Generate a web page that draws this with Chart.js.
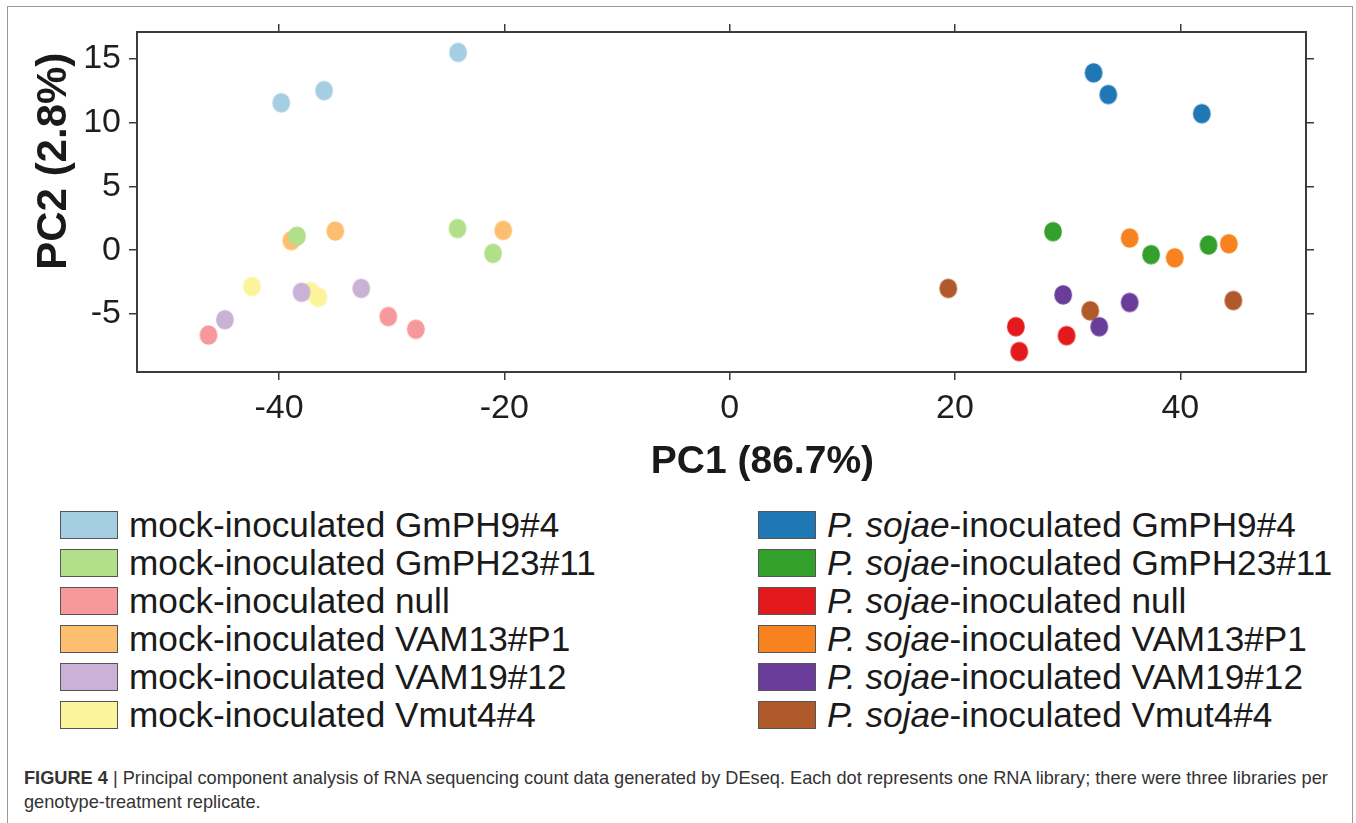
<!DOCTYPE html>
<html lang="en">
<head>
    <meta charset="UTF-8">
    <title>PCA of RNA-seq libraries</title>
    <script src="https://cdn.jsdelivr.net/npm/chart.js"></script>
    <style>
        body {
            margin: 0;
            width: 1356px;
            height: 823px;
            background: #fff;
            font-family: "Liberation Sans", Arial, sans-serif;
            position: relative;
            overflow: hidden;
        }
        #frame {
            position: absolute;
            left: 7px;
            top: 6px;
            width: 1344px;
            height: 900px;
            border: 1px solid #9a9a9a;
        }
        #pca {
            position: absolute;
            left: 0;
            top: 0;
        }
        .legend-col {
            position: absolute;
            top: 506px;
        }
        .legend-item {
            height: 38px;
            display: flex;
            align-items: center;
            font-size: 35.2px;
            color: #1a1a1a;
            white-space: nowrap;
        }
        .legend-item .box {
            width: 56px;
            height: 26px;
            border: 1.5px solid #555;
            margin-right: 11px;
            flex: none;
        }
        #caption {
            position: absolute;
            left: 24px;
            top: 766px;
            font-size: 18.2px;
            line-height: 24px;
            color: #333;
            white-space: nowrap;
        }
    </style>
</head>
<body>
    <div id="frame"></div>
    <canvas id="pca" width="1356" height="490"></canvas>
    <div class="legend-col" id="legend-left" style="left:60px"></div>
    <div class="legend-col" id="legend-right" style="left:758px"></div>
    <div id="caption"><b>FIGURE 4</b> | Principal component analysis of RNA sequencing count data generated by DEseq. Each dot represents one RNA library; there were three libraries per<br>genotype-treatment replicate.</div>

    <script>
        // PC1 / PC2 coordinates, three libraries per group
        const mockGmPH9   = [[-39.8, 11.55], [-36.0, 12.5], [-24.1, 15.5]];
        const mockGmPH23  = [[-38.4, 1.1], [-24.15, 1.7], [-21.0, -0.25]];
        const mockNull    = [[-46.25, -6.65], [-30.3, -5.2], [-27.85, -6.2]];
        const mockVAM13   = [[-38.9, 0.75], [-35.0, 1.5], [-20.1, 1.55]];
        const mockVAM19   = [[-44.8, -5.45], [-38.0, -3.3], [-32.7, -3.0]];
        const mockVmut4   = [[-42.4, -2.85], [-37.2, -3.25], [-36.5, -3.7]];

        const sojaeGmPH9  = [[32.3, 13.9], [33.6, 12.2], [41.9, 10.7]];
        const sojaeGmPH23 = [[28.7, 1.45], [37.4, -0.35], [42.5, 0.4]];
        const sojaeNull   = [[25.4, -6.0], [25.7, -7.95], [29.9, -6.7]];
        const sojaeVAM13  = [[35.5, 0.95], [39.5, -0.6], [44.3, 0.5]];
        const sojaeVAM19  = [[29.6, -3.5], [32.8, -6.0], [35.5, -4.1]];
        const sojaeVmut4  = [[19.4, -3.0], [32.0, -4.75], [44.7, -3.95]];

        const genotypes = ['GmPH9#4', 'GmPH23#11', 'null', 'VAM13#P1', 'VAM19#12', 'Vmut4#4'];
        const mockSeries = [mockGmPH9, mockGmPH23, mockNull, mockVAM13, mockVAM19, mockVmut4];
        const sojaeSeries = [sojaeGmPH9, sojaeGmPH23, sojaeNull, sojaeVAM13, sojaeVAM19, sojaeVmut4];
        const mockColors = ['#a6cee3', '#b2df8a', '#f7999a', '#fdbf6f', '#cab2d6', '#fbf49b'];
        const sojaeColors = ['#1f78b4', '#33a02c', '#e31a1c', '#f7821f', '#6a3d9a', '#b0592a'];

        const xTicks = [-40, -20, 0, 20, 40];
        const yTicks = [-5, 0, 5, 10, 15];

        // slightly tall dots like the original
        function makeDot(color) {
            const c = document.createElement('canvas');
            c.width = 20;
            c.height = 22;
            const g = c.getContext('2d');
            g.fillStyle = color;
            g.beginPath();
            g.ellipse(10, 11, 8.9, 9.8, 0, 0, Math.PI * 2);
            g.fill();
            return c;
        }

        const datasets = [];
        genotypes.forEach((g, i) => {
            datasets.push({
                label: 'mock-inoculated ' + g,
                data: mockSeries[i].map(p => ({ x: p[0], y: p[1] })),
                pointStyle: makeDot(mockColors[i]),
                backgroundColor: mockColors[i]
            });
        });
        genotypes.forEach((g, i) => {
            datasets.push({
                label: 'P. sojae-inoculated ' + g,
                data: sojaeSeries[i].map(p => ({ x: p[0], y: p[1] })),
                pointStyle: makeDot(sojaeColors[i]),
                backgroundColor: sojaeColors[i]
            });
        });

        const axisColor = '#3c3c3c';
        const tickFont = { family: '"Liberation Sans", Arial, sans-serif', size: 34 };

        function axis(position, min, max, ticks, showLabels, size) {
            return {
                type: 'linear',
                position: position,
                min: min,
                max: max,
                afterBuildTicks: s => { s.ticks = ticks.map(v => ({ value: v })); },
                afterFit: s => {
                    if (s.isHorizontal()) s.height = size; else s.width = size;
                },
                ticks: {
                    display: showLabels,
                    font: tickFont,
                    color: '#1e1e1e',
                    padding: 8,
                    maxRotation: 0
                },
                grid: {
                    drawOnChartArea: false,
                    drawTicks: true,
                    tickLength: 8,
                    color: axisColor,
                    lineWidth: 1.5
                },
                border: { display: true, color: axisColor, width: 2 }
            };
        }

        const xMin = -52.6, xMax = 51.15, yMin = -9.55, yMax = 17.1;

        // axis titles sit a bit off the plot centre in the original
        const axisTitles = {
            id: 'axisTitles',
            afterDraw(chart) {
                const ctx = chart.ctx;
                const area = chart.chartArea;
                ctx.save();
                ctx.fillStyle = '#1a1a1a';
                ctx.textAlign = 'center';
                ctx.textBaseline = 'middle';
                ctx.font = 'bold 39px "Liberation Sans", Arial, sans-serif';
                ctx.fillText('PC1 (86.7%)', area.left + area.width * 0.535, area.bottom + 90);
                ctx.font = 'bold 42px "Liberation Sans", Arial, sans-serif';
                ctx.translate(area.left - 83, area.top + area.height * 0.38);
                ctx.rotate(-Math.PI / 2);
                ctx.fillText('PC2 (2.8%)', 0, 0);
                ctx.restore();
            }
        };

        const chart = new Chart(document.getElementById('pca'), {
            type: 'scatter',
            data: { datasets: datasets },
            options: {
                responsive: false,
                devicePixelRatio: 1,
                animation: false,
                layout: { padding: 0 },
                plugins: {
                    legend: { display: false },
                    tooltip: { enabled: false }
                },
                elements: { point: { radius: 10, hoverRadius: 10 } },
                scales: {
                    x: axis('bottom', xMin, xMax, xTicks, true, 118),
                    x2: axis('top', xMin, xMax, xTicks, false, 32),
                    y: axis('left', yMin, yMax, yTicks, true, 137),
                    y2: axis('right', yMin, yMax, yTicks, false, 50)
                }
            },
            plugins: [axisTitles]
        });

        // two-column legend built from the same groups
        function fillLegend(el, prefix, colors) {
            genotypes.forEach((g, i) => {
                const row = document.createElement('div');
                row.className = 'legend-item';
                row.innerHTML = '<span class="box" style="background:' + colors[i] + '"></span>' + prefix + g;
                el.appendChild(row);
            });
        }
        fillLegend(document.getElementById('legend-left'), 'mock-inoculated ', mockColors);
        fillLegend(document.getElementById('legend-right'), '<i>P. sojae</i>-inoculated ', sojaeColors);
    </script>
</body>
</html>
